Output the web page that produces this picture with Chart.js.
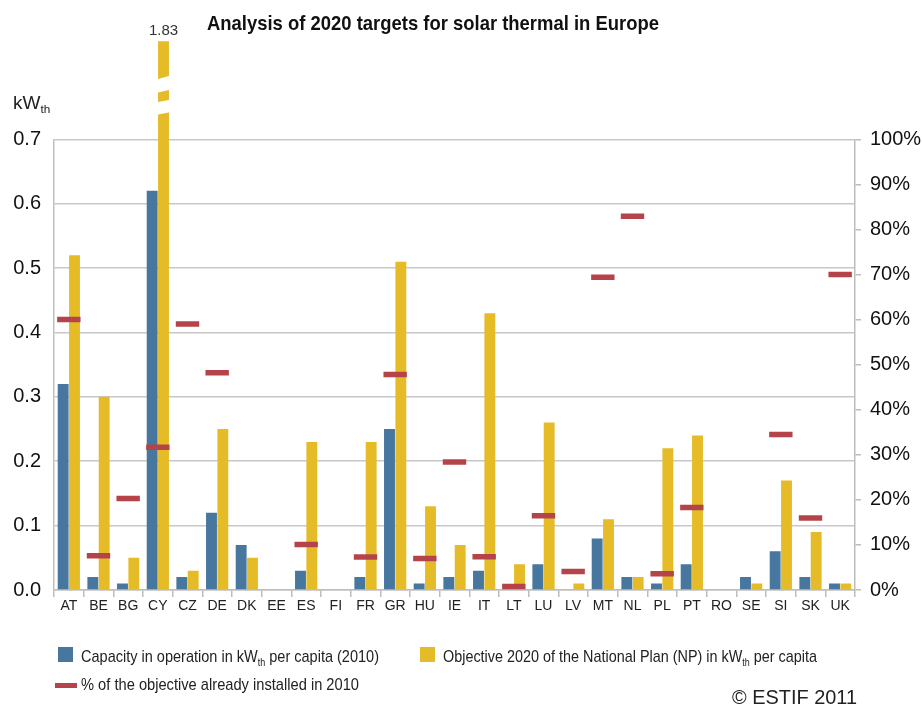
<!DOCTYPE html>
<html>
<head>
<meta charset="utf-8">
<script src="https://cdn.jsdelivr.net/npm/chart.js@4.4.1/dist/chart.umd.min.js"></script>
<style>
  html, body { margin: 0; padding: 0; background: #fff; }
  #wrap { position: relative; width: 922px; height: 706px; overflow: hidden; }
  #wrap canvas { position: absolute; left: 0; top: 0; }
  .lbl { position: absolute; color: #222; white-space: nowrap; line-height: 1; font-family: "Liberation Sans", Arial, sans-serif; transform-origin: left top; }
  sub { font-size: 62%; vertical-align: -0.35em; line-height: 0; }
  .box { position: absolute; width: 15px; height: 15px; }
</style>
</head>
<body>
<div id="wrap">
  <canvas id="c" width="922" height="706"></canvas>
  <div class="lbl fit" data-w="452" style="left:207px; top:12px; font-size:21px; font-weight:bold; color:#111;">Analysis of 2020 targets for solar thermal in Europe</div>
  <div class="lbl" style="left:13px; top:93px; font-size:19px;">kW<sub>th</sub></div>
  <div class="box" style="left:58px; top:647px; background:#47769f;"></div>
  <div class="lbl fit" data-w="298" style="left:81px; top:647.5px; font-size:17px;">Capacity in operation in kW<sub>th</sub> per capita (2010)</div>
  <div class="box" style="left:420px; top:647px; background:#e5bb28;"></div>
  <div class="lbl fit" data-w="374" style="left:443px; top:647.5px; font-size:17px;">Objective 2020 of the National Plan (NP) in kW<sub>th</sub> per capita</div>
  <div class="box" style="left:55px; top:683px; width:22px; height:5px; background:#b4444a;"></div>
  <div class="lbl fit" data-w="278" style="left:81px; top:676px; font-size:17px;">% of the objective already installed in 2010</div>
  <div class="lbl fit" data-w="125" style="left:732px; top:687px; font-size:20px;">© ESTIF 2011</div>
</div>
<script>
const categories = ['AT','BE','BG','CY','CZ','DE','DK','EE','ES','FI','FR','GR','HU','IE','IT','LT','LU','LV','MT','NL','PL','PT','RO','SE','SI','SK','UK'];
const capacity2010 = [0.32,0.02,0.01,0.62,0.02,0.12,0.07,0,0.03,0,0.02,0.25,0.01,0.02,0.03,0,0.04,0,0.08,0.02,0.01,0.04,0,0.02,0.06,0.02,0.01];
const objective2020 = [0.52,0.30,0.05,1.83,0.03,0.25,0.05,0,0.23,0,0.23,0.51,0.13,0.07,0.43,0.04,0.26,0.01,0.11,0.02,0.22,0.24,0,0.01,0.17,0.09,0.01];
const pctInstalled = [60,7.6,20.3,31.7,59,48.2,null,null,10.1,null,7.3,47.8,7.0,28.4,7.4,0.8,16.5,4.1,69.4,82.9,3.6,18.3,null,null,34.5,16.0,70.0];
const leftTicks = [0,0.1,0.2,0.3,0.4,0.5,0.6,0.7];
const rightTicks = [0,10,20,30,40,50,60,70,80,90,100];

document.querySelectorAll('.fit').forEach(el => {
  const w = el.getBoundingClientRect().width;
  el.style.transform = 'scaleX(' + (Number(el.dataset.w) / w) + ')';
});

const REG = '"Liberation Sans", Arial, sans-serif';
const BREAK_INDEX = 3;

const breakPlugin = {
  id: 'breakPlugin',
  afterDatasetsDraw(chart) {
    const meta = chart.getDatasetMeta(1);
    const el = meta.data[BREAK_INDEX];
    if (!el) return;
    const T = chart.chartArea.top;
    const xl = el.x - el.width / 2 - 1, xr = el.x + el.width / 2 + 1;
    const ctx = chart.ctx;
    ctx.save();
    ctx.fillStyle = '#ffffff';
    ctx.beginPath();
    ctx.moveTo(xl, T - 60); ctx.lineTo(xr, T - 63.5); ctx.lineTo(xr, T - 49.5); ctx.lineTo(xl, T - 46.5); ctx.closePath();
    ctx.fill();
    ctx.beginPath();
    ctx.moveTo(xl, T - 37); ctx.lineTo(xr, T - 39.5); ctx.lineTo(xr, T - 27); ctx.lineTo(xl, T - 24.5); ctx.closePath();
    ctx.fill();
    ctx.fillStyle = '#333';
    ctx.font = '15px ' + REG;
    ctx.textAlign = 'center';
    ctx.textBaseline = 'alphabetic';
    ctx.fillText(String(objective2020[BREAK_INDEX]), el.x, T - 104);
    ctx.restore();
  }
};

new Chart(document.getElementById('c'), {
  type: 'bar',
  data: {
    labels: categories,
    datasets: [
      { label: 'Capacity in operation in kWth per capita (2010)', data: capacity2010, backgroundColor: '#47769f', yAxisID: 'y', order: 1, categoryPercentage: 0.765, barPercentage: 0.96 },
      { label: 'Objective 2020 of the National Plan (NP) in kWth per capita', data: objective2020, backgroundColor: '#e5bb28', yAxisID: 'y', order: 1, categoryPercentage: 0.765, barPercentage: 0.96, clip: { left: false, right: false, bottom: false, top: 98 } },
      { type: 'line', label: '% of the objective already installed in 2010', data: pctInstalled, yAxisID: 'y2', order: 0, showLine: false, pointStyle: 'line', pointRadius: 11.7, pointHoverRadius: 11.7, borderColor: '#b4444a', backgroundColor: '#b4444a', borderWidth: 5.5, pointBorderWidth: 5.5 }
    ]
  },
  options: {
    responsive: false,
    animation: false,
    events: [],
    layout: { padding: { top: 139.3, left: 0, right: 0, bottom: 0 } },
    plugins: {
      legend: { display: false },
      tooltip: { enabled: false },
      title: { display: false }
    },
    scales: {
      x: {
        offset: true,
        grid: { offset: true, drawOnChartArea: false, drawTicks: true, tickLength: 7, color: '#bdbdbd', lineWidth: 1.5 },
        border: { display: true, color: '#bdbdbd', width: 1.5 },
        ticks: { color: '#222', font: { family: REG, size: 14 }, padding: 1, maxRotation: 0, autoSkip: false },
        afterFit(scale) { scale.height = 116; }
      },
      y: {
        position: 'left',
        min: 0, max: 0.7,
        afterBuildTicks(scale) { scale.ticks = leftTicks.map(v => ({ value: v })); },
        grid: { color: '#c8c8c8', lineWidth: 1.5, drawTicks: false },
        border: { display: true, color: '#c0c0c0', width: 1.5 },
        ticks: { color: '#111', font: { family: REG, size: 20 }, padding: 13, callback: v => Number(v).toFixed(1) },
        afterFit(scale) { scale.width = 54; }
      },
      y2: {
        position: 'right',
        min: 0, max: 100,
        afterBuildTicks(scale) { scale.ticks = rightTicks.map(v => ({ value: v })); },
        grid: { drawOnChartArea: false, drawTicks: true, tickLength: 6, color: '#bdbdbd', lineWidth: 1.5 },
        border: { display: true, color: '#bdbdbd', width: 1.5 },
        ticks: { color: '#111', font: { family: REG, size: 20 }, padding: 9, callback: v => v + '%' },
        afterFit(scale) { scale.width = 67; }
      }
    }
  },
  plugins: [breakPlugin]
});
</script>
</body>
</html>
